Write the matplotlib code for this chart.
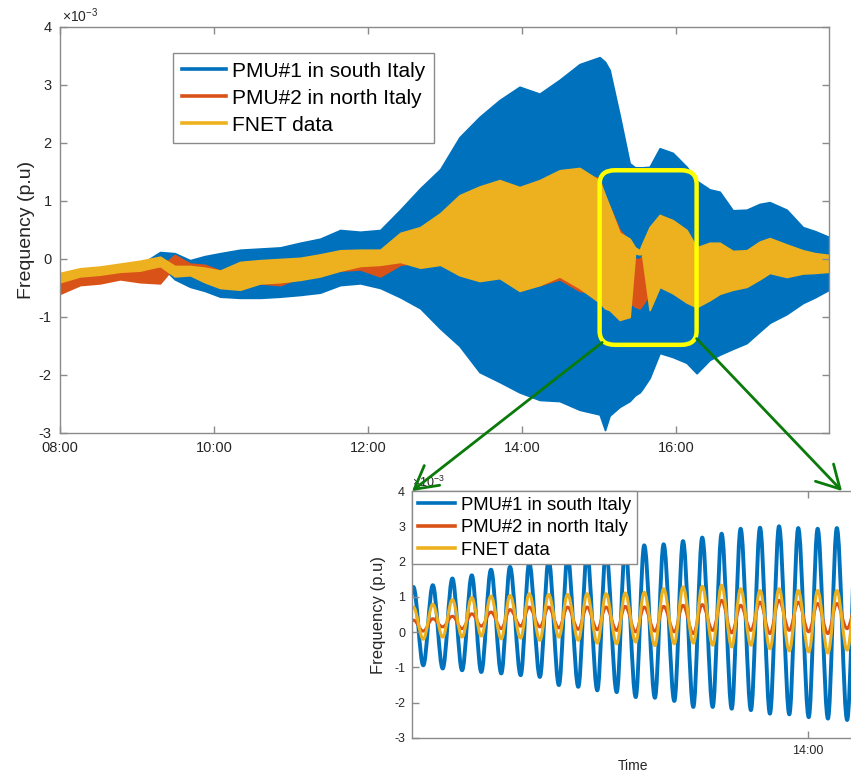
import numpy as np
import matplotlib
matplotlib.use("Agg")
import matplotlib.pyplot as plt
from matplotlib.lines import Line2D
from matplotlib.path import Path
from matplotlib.patches import PathPatch, FancyBboxPatch, FancyArrowPatch

plt.rcParams["font.family"] = ["Liberation Sans", "DejaVu Sans"]
plt.rcParams["axes.unicode_minus"] = False
plt.rcParams["mathtext.fontset"] = "custom"
plt.rcParams["mathtext.rm"] = "Liberation Sans"
plt.rcParams["mathtext.it"] = "Liberation Sans"
plt.rcParams["mathtext.default"] = "regular"

BLUE, ORANGE, YELLOW = "#0072BD", "#D95319", "#EDB120"
LABELS = ["PMU#1 in south Italy", "PMU#2 in north Italy", "FNET data"]

# ---- main plot: oscillation envelopes (hours, x1e-3 p.u.) ----
T = [8.00, 8.26, 8.52, 8.78, 9.04, 9.30, 9.49, 9.69, 9.88, 10.08, 10.34, 10.60,
     10.86, 11.12, 11.38, 11.64, 11.90, 12.16, 12.42, 12.68, 12.94, 13.19, 13.45,
     13.71, 13.97, 14.23, 14.49, 14.75, 15.01, 15.08, 15.14, 15.27, 15.40, 15.47,
     15.53, 15.56, 15.66, 15.79, 15.96, 16.14, 16.27, 16.44, 16.57, 16.74, 16.92,
     17.09, 17.22, 17.44, 17.65, 17.81, 17.99]

PMU1_HI = [-0.35, -0.25, -0.22, -0.15, -0.10, 0.12, 0.10, -0.02, 0.05, 0.10, 0.16, 0.18,
           0.20, 0.28, 0.35, 0.50, 0.47, 0.50, 0.85, 1.22, 1.55, 2.10, 2.45,
           2.74, 2.97, 2.85, 3.09, 3.36, 3.48, 3.40, 3.26, 2.48, 1.65, 1.58,
           1.58, 1.58, 1.59, 1.91, 1.83, 1.59, 1.35, 1.20, 1.16, 0.84, 0.85,
           0.95, 0.98, 0.85, 0.55, 0.48, 0.38]
PMU1_LO = [-0.50, -0.40, -0.35, -0.28, -0.22, -0.10, -0.35, -0.48, -0.55, -0.65, -0.67, -0.67,
           -0.65, -0.62, -0.58, -0.45, -0.42, -0.50, -0.66, -0.85, -1.20, -1.50, -1.95,
           -2.12, -2.30, -2.43, -2.45, -2.60, -2.68, -2.95, -2.70, -2.55, -2.45, -2.35,
           -2.30, -2.25, -2.05, -1.62, -1.69, -1.79, -1.97, -1.74, -1.65, -1.55, -1.45,
           -1.25, -1.10, -0.95, -0.76, -0.66, -0.53]

PMU2_HI = [-0.35, -0.22, -0.25, -0.15, -0.10, -0.15, 0.07, -0.08, -0.10, -0.20, -0.22, -0.18,
           -0.22, -0.15, -0.05, 0.00, 0.05, 0.00, 0.30, 0.45, 0.70, 1.00, 1.15,
           1.25, 1.15, 1.25, 1.40, 1.45, 1.40, 1.00, 0.90, 0.50, 0.30, 0.00,
           0.00, 0.05, 0.45, 0.65, 0.60, 0.45, 0.18, 0.25, 0.25, 0.12, 0.12,
           0.25, 0.30, 0.22, 0.12, 0.08, 0.05]
PMU2_LO = [-0.60, -0.45, -0.42, -0.35, -0.40, -0.42, -0.12, -0.28, -0.32, -0.42, -0.45, -0.42,
           -0.45, -0.32, -0.25, -0.20, -0.18, -0.30, -0.10, -0.05, -0.05, -0.15, -0.25,
           -0.20, -0.20, -0.45, -0.35, -0.55, -0.60, -0.65, -0.70, -0.80, -0.75, -0.82,
           -0.85, -0.80, -0.60, -0.40, -0.50, -0.60, -0.70, -0.60, -0.50, -0.45, -0.40,
           -0.30, -0.20, -0.25, -0.20, -0.20, -0.18]

FNET_HI = [-0.24, -0.16, -0.13, -0.08, -0.03, 0.04, -0.12, -0.12, -0.15, -0.20, -0.05, -0.02,
           0.00, 0.02, 0.08, 0.15, 0.16, 0.16, 0.45, 0.55, 0.79, 1.10, 1.25,
           1.36, 1.24, 1.36, 1.53, 1.57, 1.35, 1.10, 0.90, 0.45, 0.35, 0.20,
           0.15, 0.25, 0.55, 0.76, 0.67, 0.50, 0.20, 0.28, 0.28, 0.14, 0.15,
           0.30, 0.36, 0.25, 0.15, 0.10, 0.07]
FNET_LO = [-0.40, -0.30, -0.27, -0.22, -0.20, -0.12, -0.30, -0.28, -0.40, -0.50, -0.53, -0.42,
           -0.40, -0.36, -0.30, -0.20, -0.12, -0.10, -0.05, -0.15, -0.10, -0.28, -0.38,
           -0.33, -0.55, -0.45, -0.30, -0.50, -0.75, -0.85, -0.88, -1.05, -1.00, 0.10,
           0.08, 0.10, -0.88, -0.48, -0.59, -0.75, -0.83, -0.71, -0.60, -0.53, -0.48,
           -0.35, -0.24, -0.31, -0.25, -0.24, -0.22]

MAIN_XTICKS = [8, 10, 12, 14, 16]
MAIN_XTICK_LABELS = ["08:00", "10:00", "12:00", "14:00", "16:00"]
YTICKS = [-3, -2, -1, 0, 1, 2, 3, 4]

# zoom box (hours, value)
BOX_T = (15.01, 16.27)
BOX_V = (-1.48, 1.53)

# ---- inset: extrema of the oscillation (minutes after 13:00) ----
PEAK_T = [40.07, 41.05, 42.04, 43.02, 43.99, 44.95, 45.92, 46.90, 47.86, 48.84, 49.80, 50.77,
          51.73, 52.71, 53.69, 54.66, 55.64, 56.60, 57.58, 58.54, 59.51, 60.49, 61.46, 62.45]
TROUGH_T = [39.56, 40.57, 41.55, 42.53, 43.50, 44.51, 45.49, 46.46, 47.42, 48.40, 49.36, 50.34,
            51.30, 52.27, 53.25, 54.21, 55.19, 56.15, 57.12, 58.08, 59.06, 60.04, 61.01, 61.98,
            62.96]
INS_PMU1_PEAK = [1.28, 1.33, 1.52, 1.61, 1.77, 1.85, 1.96, 2.05, 2.15, 2.25, 2.32, 2.40,
                 2.46, 2.49, 2.58, 2.68, 2.79, 2.93, 2.96, 3.00, 2.95, 2.93, 2.95, 2.95]
INS_PMU1_TROUGH = [-0.85, -0.94, -1.03, -1.08, -1.13, -1.17, -1.22, -1.27, -1.50, -1.55, -1.65,
                   -1.70, -1.84, -1.86, -1.95, -2.12, -2.12, -2.17, -2.21, -2.31, -2.33, -2.41,
                   -2.45, -2.49, -2.50]
INS_PMU2_PEAK = [0.34, 0.38, 0.45, 0.52, 0.57, 0.64, 0.71, 0.71, 0.71, 0.71, 0.71, 0.73,
                 0.71, 0.73, 0.76, 0.78, 0.90, 0.76, 0.85, 0.90, 0.85, 0.81, 0.81, 0.80]
INS_PMU2_TROUGH = [0.05, 0.03, 0.15, 0.10, 0.17, 0.10, 0.17, 0.15, 0.12, 0.08, 0.07, 0.05,
                   0.01, 0.03, 0.01, -0.04, 0.05, -0.02, 0.05, -0.04, 0.05, 0.01, -0.04, 0.10,
                   0.05]
INS_FNET_PEAK = [0.71, 0.79, 0.92, 0.98, 1.02, 1.04, 1.09, 1.07, 1.07, 1.09, 1.09, 1.11,
                 1.13, 1.23, 1.28, 1.30, 1.33, 1.23, 1.18, 1.23, 1.18, 1.18, 1.18, 1.20]
INS_FNET_TROUGH = [-0.15, -0.20, -0.14, -0.14, -0.11, -0.19, -0.17, -0.23, -0.14, -0.23, -0.31,
                   -0.33, -0.28, -0.38, -0.33, -0.31, -0.37, -0.42, -0.37, -0.47, -0.53, -0.56,
                   -0.59, -0.51, -0.50]
INS_XTICKS = [60]
INS_XTICK_LABELS = ["14:00"]

W, H = 851, 774
SPINE = "#8a8a8a"
TXT = "#262626"


def px_axes(fig, left, top, right, bottom):
    return fig.add_axes([left / W, 1 - bottom / H, (right - left) / W, (bottom - top) / H])


def style_axes(ax, fs, pad):
    for s in ax.spines.values():
        s.set_color(SPINE)
        s.set_linewidth(1.0)
    ax.tick_params(direction="in", top=True, right=True, colors=SPINE,
                   labelcolor=TXT, labelsize=fs, length=5, width=1.0, pad=pad)


def smooth_path(ts, vs, k=0.36):
    verts = [(ts[0], vs[0])]
    codes = [Path.MOVETO]
    for i in range(len(ts) - 1):
        dt = ts[i + 1] - ts[i]
        verts += [(ts[i] + k * dt, vs[i]), (ts[i + 1] - k * dt, vs[i + 1]), (ts[i + 1], vs[i + 1])]
        codes += [Path.CURVE4] * 3
    return Path(verts, codes)


def merged(peaks, troughs):
    t = np.array(PEAK_T + TROUGH_T)
    v = np.array(peaks + troughs)
    o = np.argsort(t)
    return t[o], v[o]


fig = plt.figure(figsize=(W / 100, H / 100), dpi=100)

# ---------------- main axes ----------------
ax = px_axes(fig, 60, 27, 829, 433)
for hi, lo, c in [(PMU1_HI, PMU1_LO, BLUE), (PMU2_HI, PMU2_LO, ORANGE), (FNET_HI, FNET_LO, YELLOW)]:
    ax.fill_between(T, lo, hi, color=c, lw=1.2, ec=c)
ax.set_xlim(8, 17.99)
ax.set_ylim(-3, 4)
ax.set_xticks(MAIN_XTICKS)
ax.set_xticklabels(MAIN_XTICK_LABELS)
ax.set_yticks(YTICKS)
style_axes(ax, 10.5, 6)
ax.set_ylabel("Frequency (p.u)", fontsize=14, color=TXT)
ax.yaxis.set_label_coords(-0.033, 0.5)
ax.text(0.002, 1.004, r"$\times10^{-3}$", transform=ax.transAxes, fontsize=10,
        color=TXT, ha="left", va="bottom")

handles = [Line2D([], [], color=c, lw=2.6) for c in (BLUE, ORANGE, YELLOW)]
leg = ax.legend(handles, LABELS, loc="upper left", bbox_to_anchor=(0.147, 0.936),
                borderaxespad=0, fontsize=15, fancybox=False, framealpha=1,
                edgecolor=SPINE, handlelength=2.1, handletextpad=0.3,
                labelspacing=0.38, borderpad=0.42)
leg.get_frame().set_linewidth(1.0)

# yellow zoom box
to_fig = ax.transData + fig.transFigure.inverted()
(bx0, by0), (bx1, by1) = to_fig.transform([(BOX_T[0], BOX_V[0]), (BOX_T[1], BOX_V[1])])
box = FancyBboxPatch((bx0, by0), bx1 - bx0, by1 - by0,
                     boxstyle="round,pad=0,rounding_size=0.018",
                     transform=fig.transFigure, fill=False, ec="#FFFF00", lw=3.2, zorder=6)
fig.add_artist(box)

# ---------------- inset axes ----------------
axi = px_axes(fig, 412, 491, 860, 738)
for peaks, troughs, c, lw in [(INS_PMU1_PEAK, INS_PMU1_TROUGH, BLUE, 2.8),
                              (INS_PMU2_PEAK, INS_PMU2_TROUGH, ORANGE, 2.2),
                              (INS_FNET_PEAK, INS_FNET_TROUGH, YELLOW, 2.2)]:
    t, v = merged(peaks, troughs)
    axi.add_patch(PathPatch(smooth_path(t, v), fill=False, ec=c, lw=lw,
                            capstyle="round", joinstyle="round"))
axi.set_xlim(40.0, 62.63)
axi.set_ylim(-3, 4)
axi.set_xticks(INS_XTICKS)
axi.set_xticklabels(INS_XTICK_LABELS)
axi.set_yticks(YTICKS)
style_axes(axi, 9, 5)
axi.spines["right"].set_visible(False)
axi.set_ylabel("Frequency (p.u)", fontsize=12, color=TXT, labelpad=6)
axi.set_xlabel("Time", fontsize=10, color=TXT)
axi.xaxis.set_label_coords((633 - 412) / (860 - 412), -0.085)
axi.text(0.0, 1.004, r"$\times10^{-3}$", transform=axi.transAxes, fontsize=9,
         color=TXT, ha="left", va="bottom")
leg2 = axi.legend(handles, LABELS, loc="upper left", bbox_to_anchor=(0.0, 1.0),
                  borderaxespad=0, fontsize=13.3, fancybox=False, framealpha=1,
                  edgecolor=SPINE, handlelength=2.05, handletextpad=0.3,
                  labelspacing=0.3, borderpad=0.3)
leg2.get_frame().set_linewidth(1.0)

# green arrows from the zoom box to the inset corners
pos = axi.get_position()
green = "#0a7a0a"
for start, end in [((bx0 + 0.003, by0 + 0.003), (pos.x0, pos.y1)),
                   ((bx1, by0 + 0.008), (842 / W, pos.y1))]:
    fig.add_artist(FancyArrowPatch(start, end, transform=fig.transFigure,
                                   arrowstyle="->,head_length=0.9,head_width=0.5",
                                   mutation_scale=18, color=green, lw=2.0,
                                   shrinkA=0, shrinkB=0, zorder=10))

fig.savefig("out.png", dpi=100)
